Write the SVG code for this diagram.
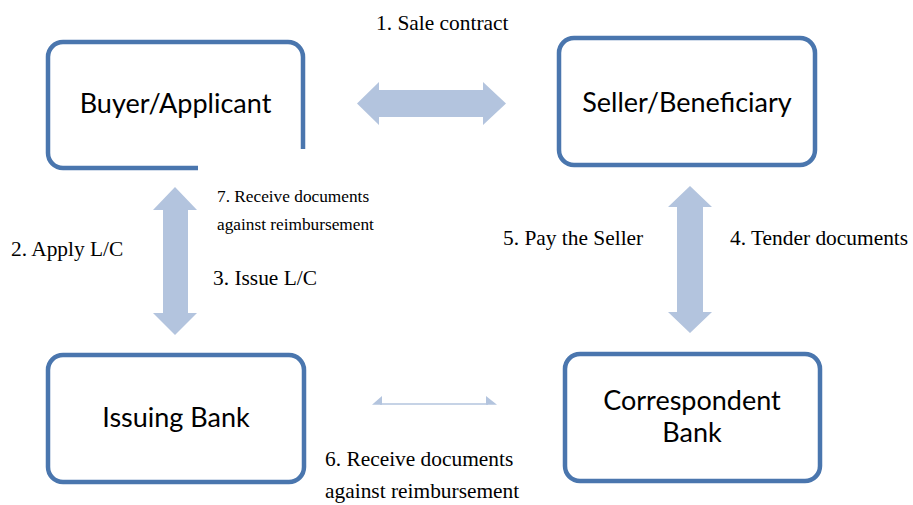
<svg xmlns="http://www.w3.org/2000/svg" width="913" height="505" viewBox="0 0 913 505">
<style>
.box{fill:#ffffff;stroke:#4a76ae;stroke-width:4.5}
.node{font-family:Lato,"Open Sans","Liberation Sans",sans-serif;font-size:27px;fill:#000;text-anchor:middle}
.lbl{font-family:"Liberation Serif","Times New Roman",serif;font-size:21.4px;fill:#000}
.sm{font-size:17.3px}
.arr{fill:#b3c4de;stroke:none}
</style>
<rect width="913" height="505" fill="#ffffff"/>
<g id="connectors">
<polygon class="arr" points="357,103.5 379,82 379,90 483,90 483,82 506,103.5 483,125 483,117 379,117 379,125"/>
<polygon class="arr" points="175,187 197,210 188,210 188,313 197,313 175,335 153,313 163,313 163,210 153,210"/>
<polygon class="arr" points="690,186 712,207 703,207 703,312 712,312 690,333 668,312 677,312 677,207 668,207"/>
<g>
<line x1="380" y1="404" x2="488" y2="404" stroke="#b3c4de" stroke-width="1.6"/>
<polygon class="arr" points="372,404.8 382,396 382,404.8"/>
<polygon class="arr" points="497,404.8 486,396 486,404.8"/>
</g>
</g>
<g id="buyer">
<path d="M198,168 H63 A15,15 0 0 1 48,153 V57 A15,15 0 0 1 63,42 H288 A15,15 0 0 1 303,57 V149" fill="none" stroke="#4a76ae" stroke-width="4.5"/>
<text class="node" x="175.5" y="113">Buyer/Applicant</text>
</g>
<g id="seller">
<rect class="box" x="559" y="38" width="256" height="127" rx="15"/>
<text class="node" x="687" y="112">Seller/Beneficiary</text>
</g>
<g id="issuing">
<rect class="box" x="48" y="355" width="256" height="127" rx="15"/>
<text class="node" x="176" y="427">Issuing Bank</text>
</g>
<g id="correspondent">
<rect class="box" x="565" y="354" width="255" height="127" rx="15"/>
<text class="node" x="692" y="410">Correspondent</text>
<text class="node" x="692" y="442">Bank</text>
</g>
<g id="labels">
<text class="lbl" x="376" y="30">1. Sale contract</text>
<text class="lbl sm" x="217" y="202">7. Receive documents</text>
<text class="lbl sm" x="217" y="230">against reimbursement</text>
<text class="lbl" x="11" y="256">2. Apply L/C</text>
<text class="lbl" x="213" y="285">3. Issue L/C</text>
<text class="lbl" x="503" y="245">5. Pay the Seller</text>
<text class="lbl" x="730" y="245">4. Tender documents</text>
<text class="lbl" x="325" y="466">6. Receive documents</text>
<text class="lbl" x="325" y="498">against reimbursement</text>
</g>
</svg>
